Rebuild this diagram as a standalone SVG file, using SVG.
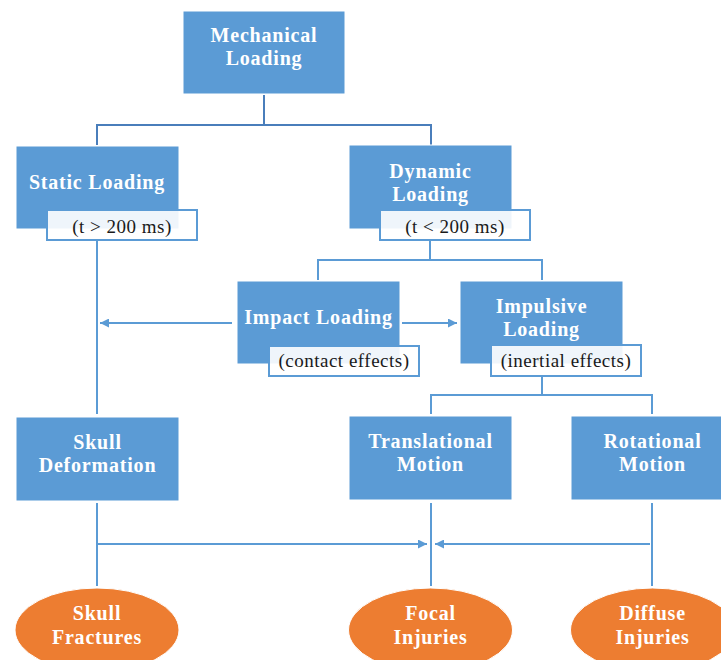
<svg xmlns="http://www.w3.org/2000/svg" width="721" height="660" viewBox="0 0 721 660">
<style>
.box{fill:#5B9BD5;stroke:#ffffff;stroke-width:1}
.ell{fill:#ED7D31;stroke:#ffffff;stroke-width:1}
.lbl{fill:#ffffff;fill-opacity:0.9;stroke:#5B9BD5;stroke-width:2}
.t{font-family:"Liberation Serif","Times New Roman",serif;font-weight:bold;font-size:20px;letter-spacing:0.8px;fill:#ffffff;text-anchor:middle;dominant-baseline:central}
.s{font-family:"Liberation Serif","Times New Roman",serif;font-size:19px;letter-spacing:0.5px;fill:#1a1a1a;text-anchor:middle;dominant-baseline:central}
.ln{fill:none;stroke:#5B9BD5;stroke-width:2}
.dk{stroke:#4A7EBB}
</style>
<defs>
<marker id="ah" viewBox="0 0 10 10" refX="10" refY="5" markerWidth="10" markerHeight="9" markerUnits="userSpaceOnUse" orient="auto">
<path d="M0,0 L10,5 L0,10 z" fill="#5B9BD5"/>
</marker>
</defs>
<g id="connectors">
<path class="ln dk" d="M264,95 V125 M97,125 H431 M97,124 V145 M431,124 V145"/>
<path class="ln" d="M97,240 V414"/>
<path class="ln" d="M430,240 V260 M318,260 H542 M318,259 V280 M542,259 V280"/>
<path class="ln" d="M542,376 V395 M431,395 H652 M431,394 V414 M652,394 V414"/>
<path class="ln" d="M232,323 H100" marker-end="url(#ah)"/>
<path class="ln" d="M402,323 H457" marker-end="url(#ah)"/>
<path class="ln" d="M97,503 V586 M431,503 V586 M652,503 V586"/>
<path class="ln" d="M97,544 H427" marker-end="url(#ah)"/>
<path class="ln" d="M650,544 H435" marker-end="url(#ah)"/>
</g>
<g id="mechanical">
<rect class="box" x="183" y="11" width="162" height="83"/>
<text class="t" x="264" y="35">Mechanical</text>
<text class="t" x="264" y="58">Loading</text>
</g>
<g id="static">
<rect class="box" x="16" y="146" width="163" height="83"/>
<text class="t" x="97" y="182">Static Loading</text>
<rect class="lbl" x="47" y="210" width="150" height="30"/>
<text class="s" x="122" y="226">(t &gt; 200 ms)</text>
</g>
<g id="dynamic">
<rect class="box" x="349" y="145" width="163" height="84"/>
<text class="t" x="430.5" y="171">Dynamic</text>
<text class="t" x="430.5" y="194">Loading</text>
<rect class="lbl" x="380" y="210" width="150" height="30"/>
<text class="s" x="455" y="226">(t &lt; 200 ms)</text>
</g>
<g id="impact">
<rect class="box" x="237" y="281" width="163" height="83"/>
<text class="t" x="318.5" y="317">Impact Loading</text>
<rect class="lbl" x="269" y="346" width="150" height="30"/>
<text class="s" x="344" y="360">(contact effects)</text>
</g>
<g id="impulsive">
<rect class="box" x="460" y="281" width="163" height="83"/>
<text class="t" x="541.5" y="306">Impulsive</text>
<text class="t" x="541.5" y="329">Loading</text>
<rect class="lbl" x="491" y="345" width="150" height="31"/>
<text class="s" x="566" y="360">(inertial effects)</text>
</g>
<g id="skull-deformation">
<rect class="box" x="16" y="417" width="163" height="84"/>
<text class="t" x="97.5" y="442">Skull</text>
<text class="t" x="97.5" y="465">Deformation</text>
</g>
<g id="translational">
<rect class="box" x="349" y="416" width="163" height="84"/>
<text class="t" x="430.5" y="441">Translational</text>
<text class="t" x="430.5" y="464">Motion</text>
</g>
<g id="rotational">
<rect class="box" x="571" y="416" width="163" height="84"/>
<text class="t" x="652.5" y="441">Rotational</text>
<text class="t" x="652.5" y="464">Motion</text>
</g>
<g id="skull-fractures">
<ellipse class="ell" cx="97" cy="630" rx="82" ry="42"/>
<text class="t" x="97" y="613">Skull</text>
<text class="t" x="97" y="637">Fractures</text>
</g>
<g id="focal">
<ellipse class="ell" cx="430.5" cy="630" rx="82" ry="42"/>
<text class="t" x="430.5" y="613">Focal</text>
<text class="t" x="430.5" y="637">Injuries</text>
</g>
<g id="diffuse">
<ellipse class="ell" cx="652.5" cy="630" rx="82" ry="42"/>
<text class="t" x="652.5" y="613">Diffuse</text>
<text class="t" x="652.5" y="637">Injuries</text>
</g>
</svg>
